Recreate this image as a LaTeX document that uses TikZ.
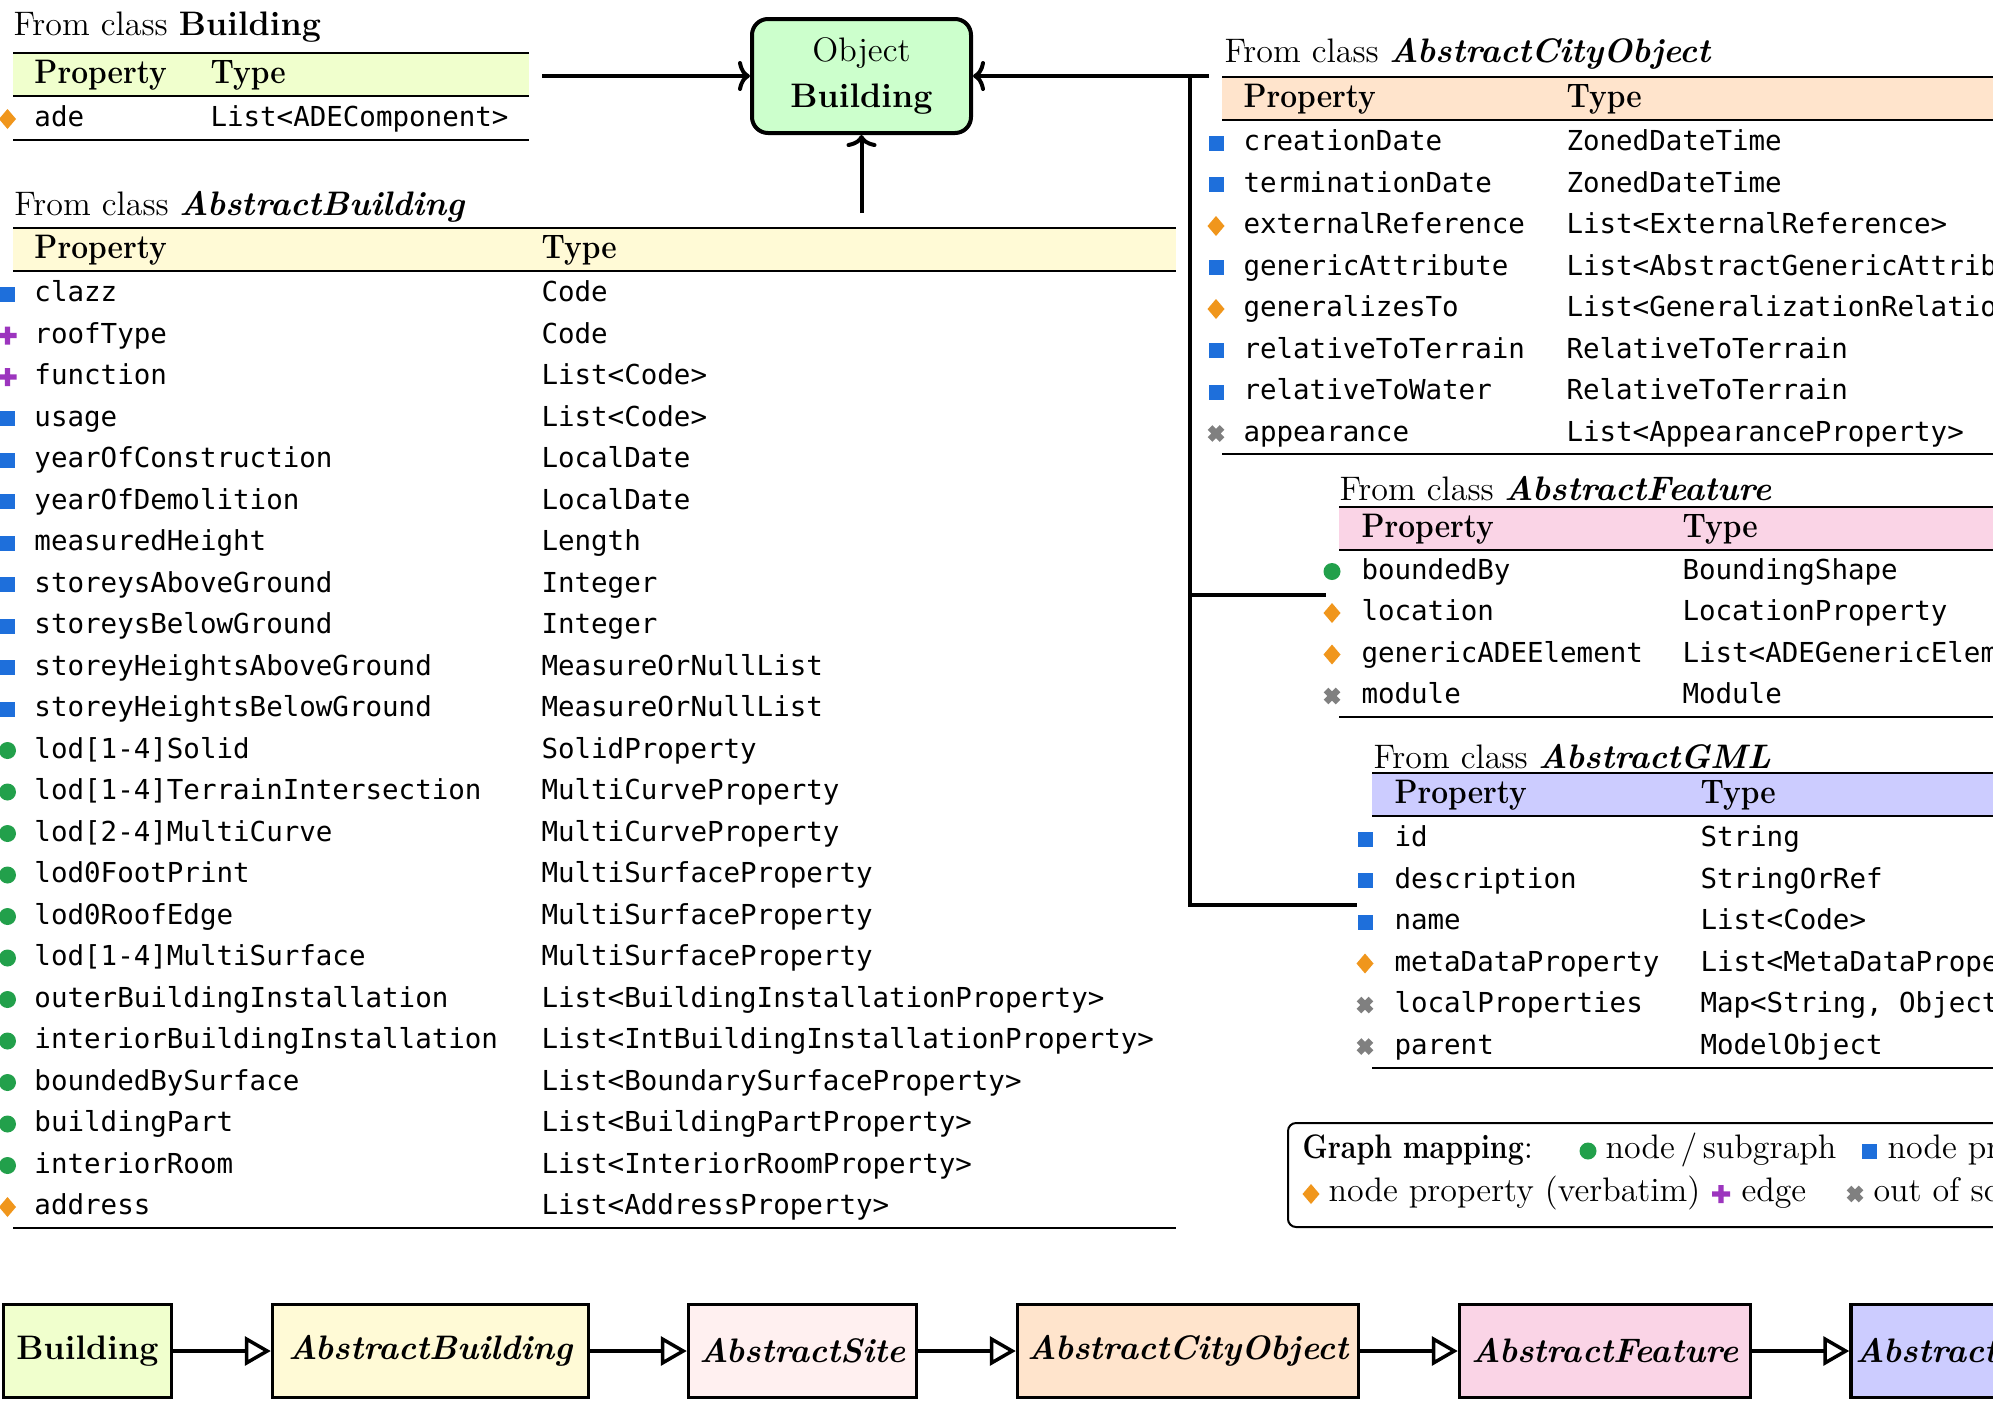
\documentclass[tikz,border=0pt]{standalone}
\usepackage{fontspec}
\usepackage{graphicx}
\usetikzlibrary{arrows.meta}
\newfontfamily\monof{DejaVu Sans Mono}
\definecolor{cblue}{RGB}{30,111,219}
\definecolor{cgreen}{RGB}{34,160,75}
\definecolor{corange}{RGB}{240,150,28}
\definecolor{cpurple}{RGB}{156,53,190}
\definecolor{cgray}{RGB}{128,128,128}
\definecolor{cbld}{RGB}{240,255,205}
\definecolor{cab}{RGB}{255,250,214}
\definecolor{cas}{RGB}{255,240,240}
\definecolor{caco}{RGB}{255,228,204}
\definecolor{caf}{RGB}{250,212,230}
\definecolor{cgml}{RGB}{204,204,255}
\definecolor{cobj}{RGB}{204,255,204}
\newcommand\sz{\fontsize{13.6pt}{18.4pt}\selectfont}
\newcommand\msz{\monof\fontsize{11pt}{13pt}\selectfont}
\newcommand\hb[1]{\scalebox{0.88}[1]{\bfseries #1}}
\newcommand\mSq{\fill[cblue] (-7.5,-7.5) rectangle (7.5,7.5);}
\newcommand\mCi{\fill[cgreen] (0,0) circle[radius=3.4pt];}
\newcommand\mDi{\fill[corange] (-8.5,0) -- (0,-10) -- (8.5,0) -- (0,10) -- cycle;}
\newcommand\mPl{\fill[cpurple] (-9,-2.6) rectangle (9,2.6) (-2.6,-9) rectangle (2.6,9);}
\newcommand\mX{\draw[cgray,line width=2.6pt] (-6,-6) -- (6,6) (-6,6) -- (6,-6);}
% #1 name, #2 marker x, #3 prop x, #4 type x, #5 baseline, #6 marker, #7 prop, #8 type
\newcommand\prow[8]{%
  \begin{scope}[shift={(#2,{#5-7.5})}]#6\end{scope}
  \node[ptext] (#1p) at (#3,{#5}) {#7};
  \node[ptext] (#1t) at (#4,{#5}) {#8};
}
% #1 name, #2 x0, #3 x1, #4 top, #5 colour, #6 prop x, #7 type x
\newcommand\thead[7]{%
  \fill[#5] (#2,#4) rectangle (#3,{#4+43});
  \draw[rulel] (#2,#4) -- (#3,#4);
  \draw[rulel] (#2,{#4+43}) -- (#3,{#4+43});
  \node[stext] (#1hp) at (#6,{#4+30}) {\hb{Property}};
  \node[stext] (#1ht) at (#7,{#4+30}) {\hb{Type}};
}
\tikzset{
  ptext/.style={anchor=base west, inner sep=0pt, font=\msz},
  stext/.style={anchor=base west, inner sep=0pt, font=\sz},
  rulel/.style={line width=0.9pt},
  conn/.style={line width=1.6pt},
  carrow/.style={conn, -{Computer Modern Rightarrow[length=4.8pt,width=12pt]}},
  iarrow/.style={line width=1.4pt, -{Triangle[open,length=10.4pt,width=11.6pt,fill=white]}},
  cbox/.style={draw, line width=1.4pt, minimum height=37.2pt, inner sep=0pt, font=\sz\bfseries\itshape},
}
\begin{document}
\begin{tikzpicture}[x=0.4pt,y=-0.4pt]
\useasboundingbox (0,0) rectangle (1993,1401);
\clip (0,0) rectangle (1993,1401);
\fill[white] (0,0) rectangle (1993,1401);

% ---- Building table
\node[stext] (bt) at (13,35) {From class \textbf{Building}};
\thead{b}{13}{529}{53}{cbld}{34}{210}
\prow{b0}{7.5}{34}{210}{126.5}{\mDi}{ade}{List<ADEComponent>}
\draw[rulel] (13,140) -- (529,140);

% ---- AbstractBuilding table
\node[stext] (abt) at (14,215) {From class \textbf{\textit{AbstractBuilding}}};
\thead{ab}{13}{1176}{228}{cab}{34}{541}
\foreach \m/\p/\t [count=\i from 0] in {
  \mSq/clazz/Code,
  \mPl/roofType/Code,
  \mPl/function/List<Code>,
  \mSq/usage/List<Code>,
  \mSq/yearOfConstruction/LocalDate,
  \mSq/yearOfDemolition/LocalDate,
  \mSq/measuredHeight/Length,
  \mSq/storeysAboveGround/Integer,
  \mSq/storeysBelowGround/Integer,
  \mSq/storeyHeightsAboveGround/MeasureOrNullList,
  \mSq/storeyHeightsBelowGround/MeasureOrNullList,
  \mCi/lod[1-4]Solid/SolidProperty,
  \mCi/lod[1-4]TerrainIntersection/MultiCurveProperty,
  \mCi/lod[2-4]MultiCurve/MultiCurveProperty,
  \mCi/lod0FootPrint/MultiSurfaceProperty,
  \mCi/lod0RoofEdge/MultiSurfaceProperty,
  \mCi/lod[1-4]MultiSurface/MultiSurfaceProperty,
  \mCi/outerBuildingInstallation/List<BuildingInstallationProperty>,
  \mCi/interiorBuildingInstallation/List<IntBuildingInstallationProperty>,
  \mCi/boundedBySurface/List<BoundarySurfaceProperty>,
  \mCi/buildingPart/List<BuildingPartProperty>,
  \mCi/interiorRoom/List<InteriorRoomProperty>,
  \mDi/address/List<AddressProperty>}
  {\prow{ab\i}{7.5}{34}{541}{301.5+41.5*\i}{\m}{\p}{\t}}
\draw[rulel] (13,1228) -- (1176,1228);

% ---- AbstractCityObject table
\node[stext] (acot) at (1224,62) {From class \textbf{\textit{AbstractCityObject}}};
\thead{aco}{1222}{2000}{77}{caco}{1243}{1566}
\foreach \m/\p/\t [count=\i from 0] in {
  \mSq/creationDate/ZonedDateTime,
  \mSq/terminationDate/ZonedDateTime,
  \mDi/externalReference/List<ExternalReference>,
  \mSq/genericAttribute/List<AbstractGenericAttribute>,
  \mDi/generalizesTo/List<GeneralizationRelation>,
  \mSq/relativeToTerrain/RelativeToTerrain,
  \mSq/relativeToWater/RelativeToTerrain,
  \mX/appearance/List<AppearanceProperty>}
  {\prow{aco\i}{1216}{1243}{1566}{150.5+41.5*\i}{\m}{\p}{\t}}
\draw[rulel] (1222,454) -- (2000,454);

% ---- AbstractFeature table
\node[stext] (aft) at (1339,500) {From class \textbf{\textit{AbstractFeature}}};
\thead{af}{1339}{2000}{507}{caf}{1361}{1682}
\foreach \m/\p/\t [count=\i from 0] in {
  \mCi/boundedBy/BoundingShape,
  \mDi/location/LocationProperty,
  \mDi/genericADEElement/List<ADEGenericElement>,
  \mX/module/Module}
  {\prow{af\i}{1332}{1361}{1682}{579+41.5*\i}{\m}{\p}{\t}}
\draw[rulel] (1339,717) -- (2000,717);

% ---- AbstractGML table
\node[stext] (gmlt) at (1373,768) {From class \textbf{\textit{AbstractGML}}};
\thead{gml}{1372}{2000}{773}{cgml}{1394}{1700}
\foreach \m/\p/\t [count=\i from 0] in {
  \mSq/id/String,
  \mSq/description/StringOrRef,
  \mSq/name/List<Code>,
  \mDi/metaDataProperty/List<MetaDataProperty>,
  \mX/localProperties/{Map<String, Object>},
  \mX/parent/ModelObject}
  {\prow{gml\i}{1365}{1394}{1700}{846.5+41.5*\i}{\m}{\p}{\t}}
\draw[rulel] (1372,1068) -- (2000,1068);

% ---- Object node and connectors
\node[draw, line width=1.6pt, rounded corners=6.4pt, fill=cobj, minimum width=87.6pt,
      minimum height=45.6pt, inner sep=0pt, align=center, font=\sz] (ob) at (861.5,76)
      {Object\\\textbf{Building}};
\coordinate (bfree) at (542,76);
\coordinate (abfree) at (861.5,213);
\coordinate (acofree) at (1209,76);
\coordinate (jtop) at (1190,76);
\coordinate (jmid) at (1190,595);
\coordinate (jbot) at (1190,905);
\coordinate (affree) at (1326,595);
\coordinate (gmlfree) at (1357,905);
\draw[carrow] (bfree) -- (ob.west);
\draw[carrow] (abfree) -- (ob.south);
\draw[carrow] (acofree) -- (ob.east);
\draw[conn] (jtop) -- (jbot) -- (gmlfree);
\draw[conn] (jmid) -- (affree);

% ---- Legend
\node[draw, line width=0.8pt, rounded corners=3.2pt, minimum width=304pt, minimum height=41.6pt,
      anchor=north west, inner sep=0pt] (leg) at (1287,1122) {};
\node[stext] (lg0) at (1302,1158) {\scalebox{0.84}[1]{\bfseries Graph mapping}:};
\begin{scope}[shift={(1588,1151)}]\mCi\end{scope}
\node[stext] (lg1) at (1605,1158) {node\,/\,subgraph};
\begin{scope}[shift={(1869,1151)}]\mSq\end{scope}
\node[stext] (lg2) at (1887,1158) {node property};
\begin{scope}[shift={(1311,1194)}]\mDi\end{scope}
\node[stext] (lg3) at (1328,1201) {node property (verbatim)};
\begin{scope}[shift={(1721,1194)}]\mPl\end{scope}
\node[stext] (lg4) at (1741,1201) {edge};
\begin{scope}[shift={(1855,1194)}]\mX\end{scope}
\node[stext] (lg5) at (1873,1201) {out of scope};

% ---- Inheritance chain
\node[cbox, fill=cbld, minimum width=67.2pt, font=\sz\bfseries] (c1) at (87.5,1351) {Building};
\node[cbox, fill=cab, minimum width=126.4pt] (c2) at (430.5,1351) {AbstractBuilding};
\node[cbox, fill=cas, minimum width=91.2pt] (c3) at (802.5,1351) {AbstractSite};
\node[cbox, fill=caco, minimum width=136.4pt] (c4) at (1188,1351) {AbstractCityObject};
\node[cbox, fill=caf, minimum width=116.4pt] (c5) at (1605,1351) {AbstractFeature};
\node[cbox, fill=cgml, minimum width=96.8pt] (c6) at (1972,1351) {AbstractGML};
\draw[iarrow] (c1.east) -- (c2.west);
\draw[iarrow] (c2.east) -- (c3.west);
\draw[iarrow] (c3.east) -- (c4.west);
\draw[iarrow] (c4.east) -- (c5.west);
\draw[iarrow] (c5.east) -- (c6.west);
\end{tikzpicture}
\end{document}
